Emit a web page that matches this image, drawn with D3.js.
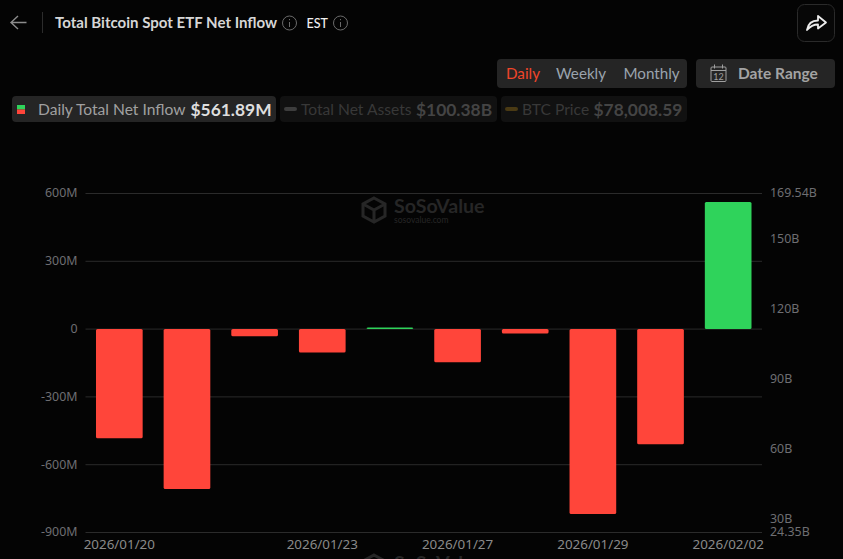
<!DOCTYPE html>
<html>

<head>
  <title>Total Bitcoin Spot ETF Net Inflow</title>
  <script src="https://cdn.jsdelivr.net/npm/d3@7"></script>
  <style>
    html, body { margin: 0; padding: 0; background: #040404; overflow: hidden; }
    svg { display: block; }
    text { font-family: Lato, sans-serif; }
    .axis text { font-family: "Noto Sans", sans-serif; font-size: 12.4px; fill: #6e6e72; }
    .axis path, .axis line { stroke: none; }
    .axis-x text { font-size: 13.4px; fill: #8a8a8a; }
  </style>
</head>

<body>
  <script>
    // data
    const dates = ["2026/01/20", "2026/01/21", "2026/01/22", "2026/01/23", "2026/01/26",
      "2026/01/27", "2026/01/28", "2026/01/29", "2026/01/30", "2026/02/02"];
    const netInflow = [-483, -708, -32, -103, 7, -147, -20, -818, -510, 561.89];
    const leftTicks = [600, 300, 0, -300, -600, -900];
    const rightTicks = [169.54, 150, 120, 90, 60, 30, 24.35];
    const xTickDates = ["2026/01/20", "2026/01/23", "2026/01/27", "2026/01/29", "2026/02/02"];
    const periods = ["Daily", "Weekly", "Monthly"];

    const w = 843;
    const h = 559;
    const chartLeft = 85.5, chartRight = 762, chartTop = 193.5, chartBottom = 532.5;

    const svg = d3.select("body").append("svg")
      .attr("width", w)
      .attr("height", h);

    const x = d3.scaleBand()
      .domain(dates)
      .range([chartLeft, chartRight])
      .paddingInner(0.31)
      .paddingOuter(0.155);
    const y = d3.scaleLinear().domain([-900, 600]).range([chartBottom, chartTop]);
    const yRight = d3.scaleLinear().domain([24.35, 169.54]).range([chartBottom, chartTop]);

    // ---- header ----
    svg.append("path")
      .attr("d", "M26.5 22.5H11.5M18 16L11 22.5L18 29")
      .attr("fill", "none").attr("stroke", "#8c8c8c").attr("stroke-width", 1.4);
    svg.append("line").attr("x1", 42.5).attr("x2", 42.5).attr("y1", 12).attr("y2", 33)
      .attr("stroke", "#2c2c2c");
    svg.append("text").attr("x", 55).attr("y", 28)
      .attr("font-size", 15.05).attr("font-weight", 700).attr("fill", "#d6d6d6")
      .text("Total Bitcoin Spot ETF Net Inflow");

    function infoIcon(cx, cy) {
      const g = svg.append("g").attr("stroke", "#6a6a6a").attr("fill", "none");
      g.append("circle").attr("cx", cx).attr("cy", cy).attr("r", 7);
      g.append("line").attr("x1", cx).attr("x2", cx).attr("y1", cy - 1).attr("y2", cy + 4);
      g.append("line").attr("x1", cx).attr("x2", cx).attr("y1", cy - 4).attr("y2", cy - 2.8);
    }
    infoIcon(289.5, 23);
    svg.append("text").attr("x", 306.5).attr("y", 27.5)
      .attr("font-size", 12.5).attr("font-weight", 500).attr("fill", "#f0f0f0").text("EST");
    infoIcon(340.5, 23);

    // share button
    svg.append("rect").attr("x", 797.5).attr("y", 4.5).attr("width", 37).attr("height", 37).attr("rx", 7)
      .attr("fill", "#070707").attr("stroke", "#2a2a2a");
    svg.append("path")
      .attr("d", "M807 30C808 24 812 20.5 818 20.5V16L826 22.5L818 28.5V24.5C813.5 24.5 810 26.5 807 30Z")
      .attr("fill", "none").attr("stroke", "#ececec").attr("stroke-width", 1.8).attr("stroke-linejoin", "round");

    // period switch
    svg.append("rect").attr("x", 497).attr("y", 59).attr("width", 190).attr("height", 29).attr("rx", 4).attr("fill", "#252525");
    svg.selectAll(".period")
      .data(periods)
      .enter().append("text")
      .attr("class", "period")
      .attr("x", (d, i) => [506, 556, 623.5][i])
      .attr("y", 79)
      .attr("font-size", 15.2)
      .attr("fill", (d, i) => i === 0 ? "#f0452a" : "#9aa3ad")
      .text(d => d);

    // date range button
    svg.append("rect").attr("x", 696).attr("y", 59).attr("width", 139).attr("height", 29).attr("rx", 4).attr("fill", "#252525");
    const cal = svg.append("g").attr("fill", "none").attr("stroke", "#a0a0a0");
    cal.append("rect").attr("x", 711).attr("y", 67).attr("width", 15).attr("height", 14.5).attr("rx", 1);
    cal.append("line").attr("x1", 711).attr("x2", 726).attr("y1", 70.5).attr("y2", 70.5);
    cal.append("line").attr("x1", 714.5).attr("x2", 714.5).attr("y1", 64.5).attr("y2", 68.5);
    cal.append("line").attr("x1", 722.5).attr("x2", 722.5).attr("y1", 64.5).attr("y2", 68.5);
    svg.append("text").attr("x", 718.5).attr("y", 79.5).attr("text-anchor", "middle")
      .attr("font-size", 9).attr("fill", "#a0a0a0").text("12");
    svg.append("text").attr("x", 738).attr("y", 79)
      .attr("font-size", 15.5).attr("font-weight", 700).attr("fill", "#a3a3a3").text("Date Range");

    // ---- legend ----
    svg.append("rect").attr("x", 12).attr("y", 96).attr("width", 264).attr("height", 26).attr("rx", 4).attr("fill", "#252525");
    svg.append("rect").attr("x", 17).attr("y", 105).attr("width", 8).attr("height", 4.5).attr("fill", "#2fd35b");
    svg.append("rect").attr("x", 17).attr("y", 109.5).attr("width", 8).attr("height", 4.5).attr("fill", "#ff453a");
    svg.append("text").attr("x", 38).attr("y", 115).attr("font-size", 15.6).attr("fill", "#a0a0a0").text("Daily Total Net Inflow");
    svg.append("text").attr("x", 190.5).attr("y", 115.5).attr("font-size", 17.4).attr("font-weight", 700).attr("fill", "#dedede").text("$561.89M");

    svg.append("rect").attr("x", 280).attr("y", 96).attr("width", 217).attr("height", 26).attr("rx", 4).attr("fill", "#111111");
    svg.append("rect").attr("x", 284).attr("y", 107).attr("width", 13).attr("height", 4).attr("rx", 2).attr("fill", "#3d3d3d");
    svg.append("text").attr("x", 301).attr("y", 115).attr("font-size", 15.6).attr("fill", "#383838").text("Total Net Assets");
    svg.append("text").attr("x", 416).attr("y", 115.5).attr("font-size", 17.4).attr("font-weight", 700).attr("fill", "#444444").text("$100.38B");

    svg.append("rect").attr("x", 501).attr("y", 96).attr("width", 186).attr("height", 26).attr("rx", 4).attr("fill", "#111111");
    svg.append("rect").attr("x", 505).attr("y", 107).attr("width", 13).attr("height", 4).attr("rx", 2).attr("fill", "#4a3a14");
    svg.append("text").attr("x", 522).attr("y", 115).attr("font-size", 15.6).attr("fill", "#383838").text("BTC Price");
    svg.append("text").attr("x", 593.5).attr("y", 115.5).attr("font-size", 17.4).attr("font-weight", 700).attr("fill", "#444444").text("$78,008.59");

    // ---- watermark ----
    function watermark(cx, cy, withUrl) {
      const g = svg.append("g").attr("transform", `translate(${cx},${cy})`);
      g.append("path")
        .attr("d", "M0 -12L11 -6V6L0 12L-11 6V-6ZM-11 -6L0 0L11 -6M0 0V12")
        .attr("fill", "none").attr("stroke", "#262626").attr("stroke-width", 3);
      g.append("text").attr("x", 20).attr("y", 3).attr("font-size", 19.6).attr("font-weight", 700)
        .attr("fill", "#262626").text("SoSoValue");
      if (withUrl) {
        g.append("text").attr("x", 20).attr("y", 12.5).attr("font-size", 8.5)
          .attr("fill", "#262626").text("sosovalue.com");
      }
    }
    watermark(374, 210, true);
    watermark(374, 567, false); // second copy, cut by the bottom edge

    // ---- grid ----
    svg.append("g").selectAll("line")
      .data(leftTicks)
      .enter().append("line")
      .attr("x1", chartLeft).attr("x2", chartRight)
      .attr("y1", d => y(d)).attr("y2", d => y(d))
      .attr("stroke", "#2b2b2b");

    // ---- axes ----
    svg.append("g").attr("class", "axis")
      .attr("transform", `translate(${chartLeft - 8},-0.5)`)
      .call(d3.axisLeft(y).tickValues(leftTicks).tickSize(0).tickPadding(0)
        .tickFormat(d => d === 0 ? "0" : d + "M"))
      .call(g => g.select(".domain").remove());

    svg.append("g").attr("class", "axis")
      .attr("transform", `translate(${chartRight + 8},-0.5)`)
      .call(d3.axisRight(yRight).tickValues(rightTicks).tickSize(0).tickPadding(0)
        .tickFormat(d => d + "B"))
      .call(g => g.select(".domain").remove());

    svg.append("g").attr("class", "axis axis-x")
      .attr("transform", `translate(0,${chartBottom + 1})`)
      .call(d3.axisBottom(x).tickValues(xTickDates).tickSize(0).tickPadding(6))
      .call(g => g.select(".domain").remove());

    // ---- bars ----
    svg.append("g").selectAll("rect")
      .data(netInflow)
      .enter().append("rect")
      .attr("x", (d, i) => x(dates[i]))
      .attr("width", x.bandwidth())
      .attr("y", d => Math.min(y(d), y(0)))
      .attr("height", d => Math.abs(y(d) - y(0)))
      .attr("rx", 1.5)
      .attr("fill", d => d >= 0 ? "#2fd35b" : "#ff453a");
  </script>
</body>

</html>
